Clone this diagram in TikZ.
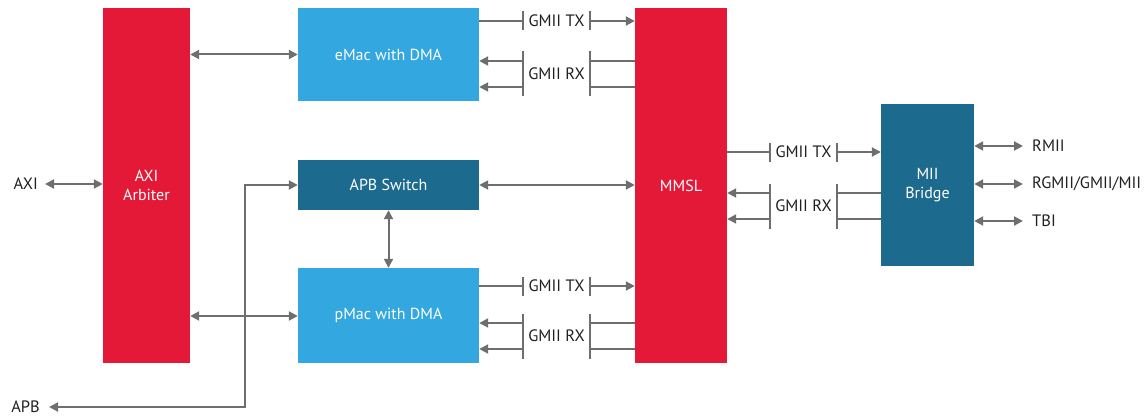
\documentclass[tikz,border=0pt]{standalone}
\usepackage{fontspec}
\setmainfont{PT Sans}
\usetikzlibrary{arrows.meta}
\definecolor{cred}{HTML}{E31937}
\definecolor{clight}{HTML}{33A7DF}
\definecolor{cdark}{HTML}{1C6A8E}
\definecolor{cline}{HTML}{6D6E70}
\definecolor{ctext}{HTML}{231F20}
\tikzset{
  box/.style={inner sep=0pt, text=white, font=\fontsize{16}{19}\selectfont, align=center},
  redbox/.style={box, fill=cred},
  lightbox/.style={box, fill=clight},
  darkbox/.style={box, fill=cdark},
  ln/.style={draw=cline, line width=2pt, line join=miter},
  tip/.style={-{Triangle[length=9pt,width=9pt]}},
  dtip/.style={{Triangle[length=9pt,width=9pt]}-{Triangle[length=9pt,width=9pt]}},
  lbl/.style={inner sep=0pt, text=ctext, font=\fontsize{16.5}{19}\selectfont},
}
\newcommand\gmiiset[7]{%
  \draw[ln] (#1.east |- 0,#5) -- (#3,#5);
  \draw[ln] (#3,#5-9.5) -- (#3,#5+9.5);
  \draw[ln] (#4,#5-9.5) -- (#4,#5+9.5);
  \draw[ln,tip] (#4,#5) -- (#2.west |- 0,#5);
  \node[lbl] at ({(#3+#4)/2},#5) {GMII TX};
  \draw[ln] (#3,#6-9.5) -- (#3,#7+9.5);
  \draw[ln] (#4,#6-9.5) -- (#4,#7+9.5);
  \draw[ln,tip] (#3,#6) -- (#1.east |- 0,#6);
  \draw[ln,tip] (#3,#7) -- (#1.east |- 0,#7);
  \draw[ln] (#2.west |- 0,#6) -- (#4,#6);
  \draw[ln] (#2.west |- 0,#7) -- (#4,#7);
  \node[lbl] at ({(#3+#4)/2},{(#6+#7)/2}) {GMII RX};
}
\begin{document}
\begin{tikzpicture}[x=1pt,y=-1pt]
\useasboundingbox (0,0) rectangle (1147,417);
\node[redbox, minimum width=87pt, minimum height=355pt] (arb) at (146.5,185.5) {AXI\\Arbiter};
\node[lightbox, minimum width=181pt, minimum height=93pt] (emac) at (388.5,54.5) {eMac with DMA};
\node[darkbox, minimum width=181pt, minimum height=50pt] (apb) at (388.5,185) {APB Switch};
\node[lightbox, minimum width=181pt, minimum height=95pt] (pmac) at (388.5,315.5) {pMac with DMA};
\node[redbox, minimum width=92pt, minimum height=355pt] (mmsl) at (681,185.5) {MMSL};
\node[darkbox, minimum width=93pt, minimum height=162pt] (mii) at (927.5,185) {MII\\Bridge};

\node[lbl, anchor=east] (axi) at (38,184) {AXI};
\node[lbl, anchor=east] (apbl) at (40,407) {APB};
\coordinate (c1) at (245,407);
\coordinate (c2) at (245,185);

\draw[ln,dtip] ([xshift=7pt]axi.east) -- (arb.west |- axi.east);
\draw[ln,dtip] ([xshift=9pt]apbl.east) -- (c1) -- (c2) -- (apb.west);
\draw[ln,dtip] (arb.east |- emac.west) -- (emac.west);
\draw[ln,dtip] (arb.east |- 0,316) -- (pmac.west |- 0,316);
\draw[ln,dtip] (apb.east) -- (mmsl.west |- apb.east);
\draw[ln,dtip] (apb.south) -- (pmac.north);

\gmiiset{emac}{mmsl}{523}{590}{21}{61}{87}
\gmiiset{pmac}{mmsl}{523}{590}{286}{323}{349}
\gmiiset{mmsl}{mii}{770}{837}{152}{193}{219}

\node[lbl, anchor=west] (rmii) at (1032,146) {RMII};
\node[lbl, anchor=west] (rgmii) at (1032,184) {RGMII/GMII/MII};
\node[lbl, anchor=west] (tbi) at (1032,221) {TBI};
\draw[ln,dtip] (mii.east |- rmii.west) -- ([xshift=-9pt]rmii.west);
\draw[ln,dtip] (mii.east |- rgmii.west) -- ([xshift=-9pt]rgmii.west);
\draw[ln,dtip] (mii.east |- tbi.west) -- ([xshift=-9pt]tbi.west);
\end{tikzpicture}
\end{document}
